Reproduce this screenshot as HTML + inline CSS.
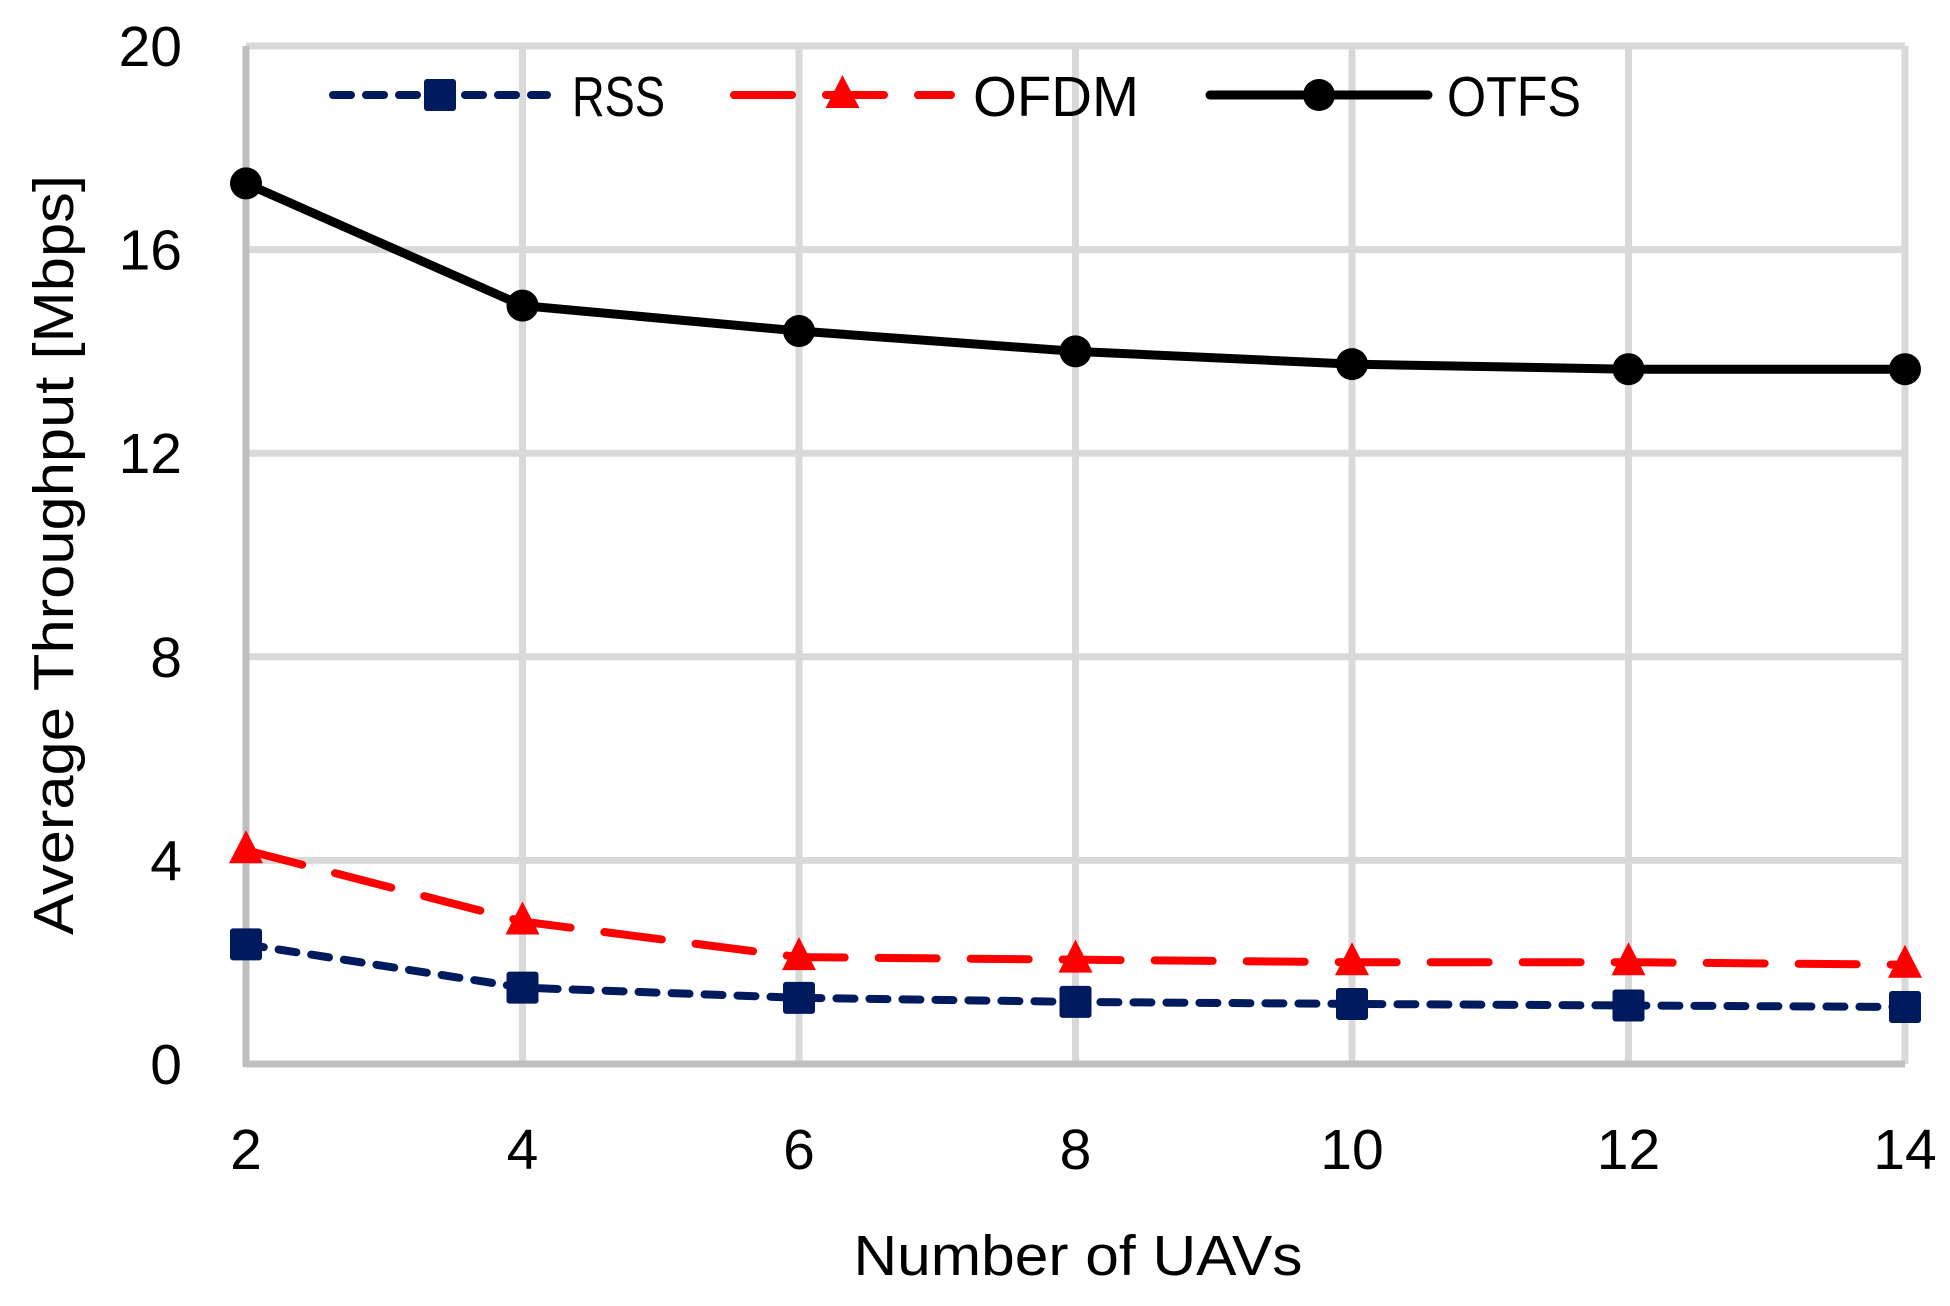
<!DOCTYPE html>
<html><head><meta charset="utf-8"><style>
html,body{margin:0;padding:0;background:#fff;}
svg{display:block;font-family:"Liberation Sans",sans-serif;}
</style></head><body>
<svg id="chart" width="1950" height="1306" viewBox="0 0 1950 1306" xmlns="http://www.w3.org/2000/svg">
<g id="grid"></g>
<g id="axes"></g>
<g id="series"></g>
<g id="legend"></g>
<text x="1078" y="1275" font-size="57" text-anchor="middle" textLength="449" lengthAdjust="spacingAndGlyphs">Number of UAVs</text>
<text transform="translate(73,555) rotate(-90)" font-size="57" text-anchor="middle" textLength="760" lengthAdjust="spacingAndGlyphs">Average Throughput [Mbps]</text>
</svg>
<script>
const categories = [2, 4, 6, 8, 10, 12, 14];
const rssValues = [2.35, 1.5, 1.3, 1.22, 1.18, 1.15, 1.12];
const ofdmValues = [4.2, 2.8, 2.1, 2.05, 2.0, 2.0, 1.95];
const otfsValues = [17.3, 14.9, 14.4, 14.0, 13.75, 13.65, 13.65];
const yTicks = [0, 4, 8, 12, 16, 20];
const xTickLabels = ["2", "4", "6", "8", "10", "12", "14"];

const NS = "http://www.w3.org/2000/svg";
const X0 = 246, X1 = 1905, Y0 = 1064, Y1 = 46;
function xs(v){ return X0 + (v - 2) / 12 * (X1 - X0); }
function ys(v){ return Y0 - v / 20 * (Y0 - Y1); }
function mk(tag, attrs, parent){ const e = document.createElementNS(NS, tag); for (const k in attrs) e.setAttribute(k, attrs[k]); parent.appendChild(e); return e; }

const grid = document.getElementById('grid');
const axes = document.getElementById('axes');
yTicks.forEach(t => {
  if (t === 0) return;
  const l = mk('line', {x1: X0, x2: X1, y1: ys(t), y2: ys(t), stroke: '#d9d9d9', 'stroke-width': 7}, grid);
  
  
});
categories.forEach(c => {
  if (c === 2) return;
  const l = mk('line', {x1: xs(c), x2: xs(c), y1: Y1, y2: Y0, stroke: '#d9d9d9', 'stroke-width': 7}, grid);
  
  
});
const ya = mk('line', {x1: X0, x2: X0, y1: Y1, y2: Y0 + 3, stroke: '#bfbfbf', 'stroke-width': 7}, axes);


const xa = mk('line', {x1: X0, x2: X1, y1: Y0, y2: Y0, stroke: '#bfbfbf', 'stroke-width': 7}, axes);


yTicks.forEach(t => {
  const tx = mk('text', {x: 182, y: ys(t) + 20, 'font-size': 57, 'text-anchor': 'end'}, axes);
  tx.textContent = String(t);
  
  
});
categories.forEach((c, i) => {
  const tx = mk('text', {x: xs(c), y: 1169, 'font-size': 57, 'text-anchor': 'middle'}, axes);
  tx.textContent = xTickLabels[i];
  
  
});

function marker(type, cx, cy, color, parent){
  let m;
  if (type === 'square') m = mk('rect', {x: cx - 16, y: cy - 16, width: 32, height: 32, rx: 3, fill: color}, parent);
  else if (type === 'triangle') m = mk('polygon', {points: `${cx},${cy-20} ${cx+17},${cy+13} ${cx-17},${cy+13}`, fill: color}, parent);
  else m = mk('circle', {cx: cx, cy: cy, r: 16, fill: color}, parent);
  return m;
}
const seriesG = document.getElementById('series');
const specs = [
  {name: 'rss', vals: rssValues, color: '#001a5e', dash: '18 15', w: 8, m: 'square'},
  {name: 'ofdm', vals: ofdmValues, color: '#ff0000', dash: '58 34', w: 8, m: 'triangle'},
  {name: 'otfs', vals: otfsValues, color: '#000000', dash: '', w: 9, m: 'circle'}
];
specs.forEach(s => {
  const pts = categories.map((c, i) => xs(c) + ',' + ys(s.vals[i])).join(' ');
  const pl = mk('polyline', {points: pts, fill: 'none', stroke: s.color, 'stroke-width': s.w, 'stroke-dasharray': s.dash, 'stroke-linecap': 'round', 'stroke-linejoin': 'round'}, seriesG);
  
  
  categories.forEach((c, i) => {
    const mm = marker(s.m, xs(c), ys(s.vals[i]), s.color, seriesG);
    
    
  });
});

const legend = document.getElementById('legend');
const legendItems = [
  {label: 'RSS', x1: 333, x2: 547, tx: 572, tw: 93, spec: specs[0]},
  {label: 'OFDM', x1: 734, x2: 951, tx: 973, tw: 166, spec: specs[1]},
  {label: 'OTFS', x1: 1210, x2: 1428, tx: 1447, tw: 134, spec: specs[2]}
];
legendItems.forEach(it => {
  const ly = 95;
  const g = mk('g', {}, legend);
  
  
  mk('line', {x1: it.x1, x2: it.x2, y1: ly, y2: ly, stroke: it.spec.color, 'stroke-width': it.spec.w, 'stroke-dasharray': it.spec.dash, 'stroke-linecap': 'round'}, g);
  marker(it.spec.m, (it.x1 + it.x2) / 2, ly, it.spec.color, g);
  const t = mk('text', {x: it.tx, y: ly + 21, 'font-size': 57, textLength: it.tw, lengthAdjust: 'spacingAndGlyphs'}, g);
  t.textContent = it.label;
});
</script>
</body></html>
